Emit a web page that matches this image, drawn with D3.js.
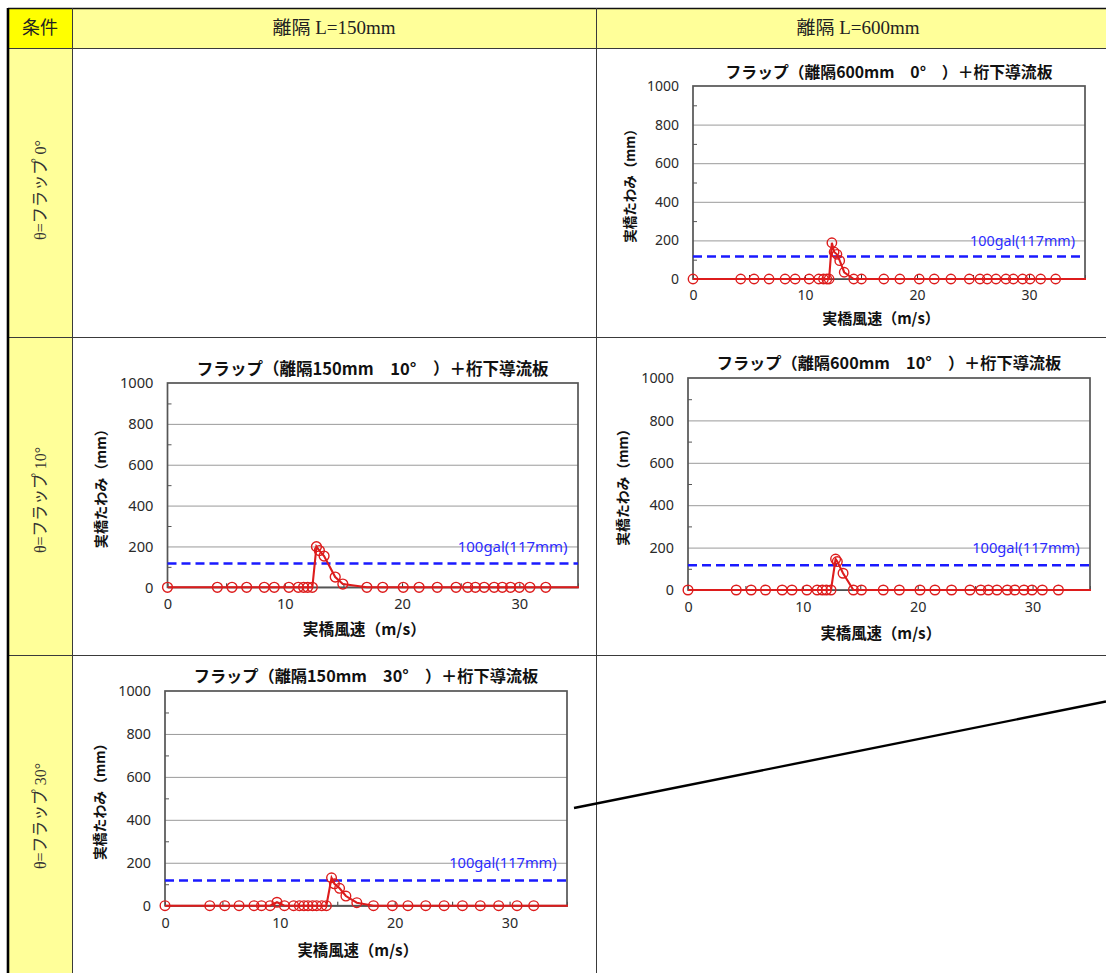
<!DOCTYPE html>
<html><head><meta charset="utf-8">
<script src="https://cdn.jsdelivr.net/npm/d3@7/dist/d3.min.js"></script>
<style>body{margin:0;background:#fff;overflow:hidden}</style>
</head><body>
<svg id="c" width="1106" height="973"></svg>
<script>
// ---------- data ----------
const headerLabels = ["条件", "離隔 L=150mm", "離隔 L=600mm"];
const rowLabels = ["θ=フラップ 0°", "θ=フラップ 10°", "θ=フラップ 30°"];
const xTicks = [0, 10, 20, 30];
const xMinorTicks = [5, 15, 25];
const yTicks = [0, 200, 400, 600, 800, 1000];
const yMinorTicks = [100, 300, 500, 700, 900];
const xDomain = [0, 35];
const yDomain = [0, 1000];
const thresholdValue = 117;
const thresholdLabel = "100gal(117mm)";
const xAxisTitle = "実橋風速（m/s）";
const yAxisTitle = "実橋たわみ（mm）";

const titleA = "フラップ（離隔600mm　0°　）＋桁下導流板";
const speedA = [0, 4.26, 5.45, 6.79, 8.22, 9.12, 10.37, 11.23, 11.65, 11.95, 12.15, 12.4, 12.6, 12.85, 13.1, 13.5, 14.35, 15.04, 17.04, 18.47, 20.2, 21.54, 23.03, 24.67, 25.62, 26.27, 27.05, 27.94, 28.6, 29.43, 30.09, 31.04, 32.38, 36];
const deflA  = [0, 0, 0, 0, 0, 0, 0, 0, 0, 0, 0, 188, 140, 128, 95, 35, 0, 0, 0, 0, 0, 0, 0, 0, 0, 0, 0, 0, 0, 0, 0, 0, 0, 0];

const titleB = "フラップ（離隔150mm　10°　）＋桁下導流板";
const speedB = [0, 4.25, 5.5, 6.75, 8.25, 9.1, 10.35, 11.15, 11.6, 11.95, 12.35, 12.7, 12.95, 13.35, 14.3, 14.95, 17.0, 18.35, 20.1, 21.45, 23.0, 24.6, 25.6, 26.25, 27.0, 27.85, 28.55, 29.25, 30.0, 30.9, 32.25, 36];
const deflB  = [0, 0, 0, 0, 0, 0, 0, 0, 0, 0, 0, 199, 180, 153, 50, 16, 0, 0, 0, 0, 0, 0, 0, 0, 0, 0, 0, 0, 0, 0, 0, 0];

const titleC = "フラップ（離隔600mm　10°　）＋桁下導流板";
const speedC = [0, 4.2, 5.5, 6.75, 8.2, 9.05, 10.35, 11.25, 11.7, 12.05, 12.45, 12.85, 13.0, 13.5, 14.4, 15.1, 17.0, 18.4, 20.2, 21.5, 22.95, 24.55, 25.5, 26.15, 26.9, 27.8, 28.45, 29.25, 29.95, 30.85, 32.25, 36];
const deflC  = [0, 0, 0, 0, 0, 0, 0, 0, 0, 0, 0, 146, 134, 79, 0, 0, 0, 0, 0, 0, 0, 0, 0, 0, 0, 0, 0, 0, 0, 0, 0, 0];

const titleD = "フラップ（離隔150mm　30°　）＋桁下導流板";
const speedD = [0, 3.9, 5.2, 6.45, 7.75, 8.4, 9.15, 9.75, 10.4, 11.2, 11.7, 12.1, 12.45, 12.85, 13.2, 13.65, 14.05, 14.5, 14.75, 15.2, 15.75, 16.7, 18.15, 19.8, 21.15, 22.7, 24.3, 25.9, 27.45, 29.05, 30.65, 32.1, 36];
const deflD  = [0, 0, 0, 0, 0, 0, 0, 16, 0, 0, 0, 0, 0, 0, 0, 0, 0, 130, 102, 81, 45, 14, 0, 0, 0, 0, 0, 0, 0, 0, 0, 0, 0];

// ---------- layout ----------
const W = 1106, H = 973;
const colX = [8, 72, 596, 1106];
const rowY = [8, 48, 337, 655, 973];
const panels = [
  {title: titleA, x: speedA, y: deflA, box: [693, 86, 1085, 279]},
  {title: titleB, x: speedB, y: deflB, box: [167.5, 383, 578, 587.3]},
  {title: titleC, x: speedC, y: deflC, box: [688, 378, 1090, 590]},
  {title: titleD, x: speedD, y: deflD, box: [165, 691, 567, 905.7]}
];

const svg = d3.select("#c");
const CJK = "'Noto Sans CJK JP','Noto Sans',sans-serif";
const SERIF = "'Liberation Serif','DejaVu Serif','Noto Sans CJK JP',serif";
const NUM = "'Noto Sans','DejaVu Sans',sans-serif";

// ---------- table ----------
const cellColor = "#ffff99";
svg.append("rect").attr("x", colX[0]).attr("y", rowY[0]).attr("width", colX[1]-colX[0]).attr("height", rowY[1]-rowY[0]).attr("fill", "#ffff00");
svg.append("rect").attr("x", colX[1]).attr("y", rowY[0]).attr("width", W-colX[1]).attr("height", rowY[1]-rowY[0]).attr("fill", cellColor);
svg.append("rect").attr("x", colX[0]).attr("y", rowY[1]).attr("width", colX[1]-colX[0]).attr("height", H-rowY[1]).attr("fill", cellColor);

const tl = svg.append("g").attr("stroke", "#3a3a3a").attr("stroke-width", 1);
rowY.slice(1, 4).forEach(y => tl.append("line").attr("x1", colX[0]).attr("x2", W).attr("y1", y+0.5).attr("y2", y+0.5));
tl.append("line").attr("x1", colX[0]).attr("x2", W).attr("y1", rowY[0]+0.5).attr("y2", rowY[0]+0.5).attr("stroke", "#111").attr("stroke-width", 1.6);
[colX[1], colX[2]].forEach(x => tl.append("line").attr("x1", x+0.5).attr("x2", x+0.5).attr("y1", rowY[0]).attr("y2", H));
svg.append("line").attr("x1", colX[0]).attr("x2", colX[0]).attr("y1", rowY[0]).attr("y2", H).attr("stroke", "#000").attr("stroke-width", 2.6);

const headerCx = [40, 334, 858];
const headerLen = [36, 123, 123];
headerLabels.forEach((t, i) => {
  svg.append("text").attr("x", headerCx[i]).attr("y", 28).attr("dy", "0.35em")
    .attr("text-anchor", "middle").attr("font-family", SERIF).attr("font-size", 18)
    .attr("textLength", headerLen[i]).attr("lengthAdjust", "spacingAndGlyphs")
    .attr("fill", "#222").text(t);
});
const rowCy = [190, 500, 816];
rowLabels.forEach((t, i) => {
  svg.append("text").attr("transform", `translate(${(colX[0]+colX[1])/2},${rowCy[i]}) rotate(-90)`)
    .attr("dy", "0.35em").attr("text-anchor", "middle").attr("font-family", SERIF)
    .attr("font-size", 17).attr("textLength", i === 0 ? 100 : 106).attr("lengthAdjust", "spacingAndGlyphs")
    .attr("fill", "#333").text(t);
});

// diagonal line
svg.append("line").attr("x1", 574).attr("y1", 808).attr("x2", 1106).attr("y2", 701.5)
  .attr("stroke", "#000").attr("stroke-width", 2.4);

// ---------- charts ----------
let clipId = 0;
panels.forEach(p => {
  const [x0, y0, x1, y1] = p.box;
  const pw = x1 - x0, ph = y1 - y0;
  const k = pw / 392, kv = ph / 193;
  const x = d3.scaleLinear().domain(xDomain).range([x0, x1]);
  const y = d3.scaleLinear().domain(yDomain).range([y1, y0]);
  const g = svg.append("g");

  // gridlines
  g.append("g").attr("transform", `translate(${x0},0)`)
    .call(d3.axisLeft(y).tickValues(yTicks.slice(1, -1)).tickSize(-pw).tickFormat(""))
    .call(a => a.select(".domain").remove())
    .call(a => a.selectAll("line").attr("stroke", "#9a9a9a").attr("stroke-width", 1));

  // minor y ticks
  g.append("g").attr("transform", `translate(${x0},0)`)
    .call(d3.axisLeft(y).tickValues(yMinorTicks).tickSize(-4).tickFormat(""))
    .call(a => a.select(".domain").remove())
    .call(a => a.selectAll("line").attr("stroke", "#555"));
  // x axis line + minor ticks
  g.append("g").attr("transform", `translate(0,${y1})`)
    .call(d3.axisBottom(x).tickValues(xTicks.slice(1).concat(xMinorTicks)).tickSize(-4).tickFormat(""))
    .call(a => a.select(".domain").attr("stroke", "#333"))
    .call(a => a.selectAll("line").attr("stroke", "#333"));

  // frame
  g.append("rect").attr("x", x0).attr("y", y0).attr("width", pw).attr("height", ph)
    .attr("fill", "none").attr("stroke", "#555").attr("stroke-width", 1.7);

  // y tick labels
  g.append("g").attr("transform", `translate(${x0},0)`)
    .call(d3.axisLeft(y).tickValues(yTicks).tickSize(0).tickPadding(14).tickFormat(d3.format("d")))
    .call(a => a.select(".domain").remove())
    .call(a => a.selectAll("text").attr("font-family", NUM).attr("font-size", 14 * k).attr("fill", "#2a2a2a"));
  // x tick labels
  g.append("g").attr("transform", `translate(0,${y1})`)
    .call(d3.axisBottom(x).tickValues(xTicks).tickSize(0).tickPadding(11 * kv).tickFormat(d3.format("d")))
    .call(a => a.select(".domain").remove())
    .call(a => a.selectAll("text").attr("font-family", NUM).attr("font-size", 14 * k).attr("fill", "#2a2a2a"));

  // threshold
  g.append("line").attr("x1", x0).attr("x2", x1).attr("y1", y(thresholdValue)).attr("y2", y(thresholdValue))
    .attr("stroke", "#1a1aff").attr("stroke-width", 2.5).attr("stroke-dasharray", "9,5");
  g.append("text").attr("x", x1 - 10 * k).attr("y", y(198)).attr("dy", "0.35em").attr("text-anchor", "end")
    .attr("font-family", NUM).attr("font-size", 14.3 * k).attr("fill", "#2b2bff").text(thresholdLabel);

  // series
  const id = "clip" + (clipId++);
  svg.append("clipPath").attr("id", id).append("rect")
    .attr("x", x0 - 10).attr("y", y0).attr("width", pw + 11).attr("height", ph + 10);
  const pts = p.x.map((v, i) => [v, p.y[i]]);
  const sg = g.append("g").attr("clip-path", `url(#${id})`);
  sg.append("path").datum(pts)
    .attr("d", d3.line().x(d => x(d[0])).y(d => y(d[1])))
    .attr("fill", "none").attr("stroke", "#dd1c1c").attr("stroke-width", 2.1);
  sg.selectAll("circle").data(pts).join("circle")
    .attr("cx", d => x(d[0])).attr("cy", d => y(d[1])).attr("r", 4.7 * k)
    .attr("fill", "none").attr("stroke", "#dd1c1c").attr("stroke-width", 1.4);

  // titles
  g.append("text").attr("x", (x0+x1)/2).attr("y", y0 - 13.5 * kv).attr("dy", "0.35em").attr("text-anchor", "middle")
    .attr("font-family", CJK).attr("font-weight", "bold").attr("font-size", 15.8 * k).attr("fill", "#111").text(p.title);
  g.append("text").attr("transform", `translate(${x0 - 63 * k},${(y0+y1)/2}) rotate(-90)`)
    .attr("dy", "0.35em").attr("text-anchor", "middle").attr("font-family", CJK).attr("font-weight", "bold")
    .attr("font-size", 13.5 * k).attr("fill", "#111").text(yAxisTitle);
  g.append("text").attr("x", (x0+x1)/2 - 8 * k).attr("y", y1 + 40 * kv).attr("dy", "0.35em").attr("text-anchor", "middle")
    .attr("font-family", CJK).attr("font-weight", "bold").attr("font-size", 15 * k).attr("fill", "#111").text(xAxisTitle);
});
</script>
</body></html>
